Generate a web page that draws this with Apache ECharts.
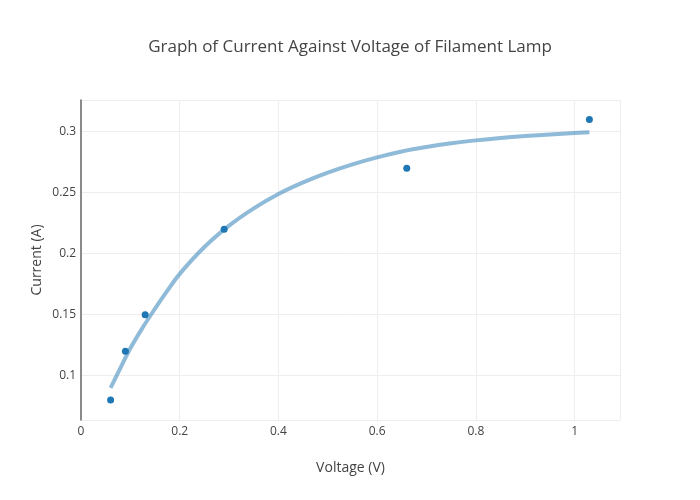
<!DOCTYPE html>
<html>
<head>
<meta charset="utf-8">
<script src="https://cdn.jsdelivr.net/npm/echarts@6/dist/echarts.min.js"></script>
<style>
  html, body { margin: 0; padding: 0; background: #fff; }
  #main { width: 700px; height: 500px; }
</style>
</head>
<body>
<div id="main"></div>
<script>
// measured points
var voltage = [0.06, 0.09, 0.13, 0.29, 0.66, 1.03];
var current = [0.08, 0.12, 0.15, 0.22, 0.27, 0.31];

// fitted curve
var fitVoltage = [0.06, 0.08, 0.1, 0.125, 0.15, 0.175, 0.2, 0.25, 0.3, 0.35, 0.4, 0.45, 0.5, 0.55, 0.6, 0.65, 0.7, 0.75, 0.8, 0.85, 0.9, 0.95, 1.0, 1.03];
var fitCurrent = [0.090, 0.1065, 0.1225, 0.1395, 0.155, 0.1697, 0.1835, 0.2055, 0.2230, 0.2372, 0.2490, 0.2585, 0.2665, 0.2733, 0.2790, 0.2838, 0.2875, 0.2905, 0.2929, 0.2949, 0.2965, 0.2978, 0.2989, 0.2995];

var font = '"Open Sans", "Noto Sans", sans-serif';

var chart = echarts.init(document.getElementById('main'));

var option = {
    animation: false,
    backgroundColor: '#fff',
    title: {
        text: 'Graph of Current Against Voltage of Filament Lamp',
        left: 'center',
        top: 34,
        textStyle: { fontFamily: font, fontSize: 17, fontWeight: 'normal', color: '#444' }
    },
    grid: { left: 81, right: 80, top: 100, bottom: 80 },
    xAxis: {
        type: 'value',
        min: 0,
        max: 1.092,
        name: 'Voltage (V)',
        nameLocation: 'middle',
        nameGap: 41,
        nameMoveOverlap: false,
        nameTextStyle: { fontFamily: font, fontSize: 14, color: '#444' },
        axisLine: { show: false },
        axisTick: { show: false },
        axisLabel: { fontFamily: font, fontSize: 12, color: '#444', margin: 6, showMaxLabel: false },
        splitLine: { lineStyle: { color: '#eee', width: 1 } }
    },
    yAxis: {
        type: 'value',
        min: 0.0637,
        max: 0.326,
        name: 'Current (A)',
        nameLocation: 'middle',
        nameGap: 37,
        nameMoveOverlap: false,
        nameTextStyle: { fontFamily: font, fontSize: 14, color: '#444' },
        axisLine: { show: true, lineStyle: { color: '#666', width: 1.5 } },
        axisTick: { show: false },
        axisLabel: { fontFamily: font, fontSize: 12, color: '#444', margin: 5, showMinLabel: false, showMaxLabel: false },
        splitLine: { lineStyle: { color: '#eee', width: 1 } }
    },
    series: [
        {
            name: 'fit',
            type: 'line',
            data: fitVoltage.map(function (v, i) { return [v, fitCurrent[i]]; }),
            showSymbol: false,
            smooth: 0.4,
            lineStyle: { color: '#1f77b4', opacity: 0.5, width: 4 },
            z: 2
        },
        {
            name: 'data',
            type: 'scatter',
            data: voltage.map(function (v, i) { return [v, current[i]]; }),
            symbolSize: 7,
            itemStyle: { color: '#1f77b4', opacity: 1 },
            z: 3
        }
    ]
};

chart.setOption(option);
</script>
</body>
</html>
